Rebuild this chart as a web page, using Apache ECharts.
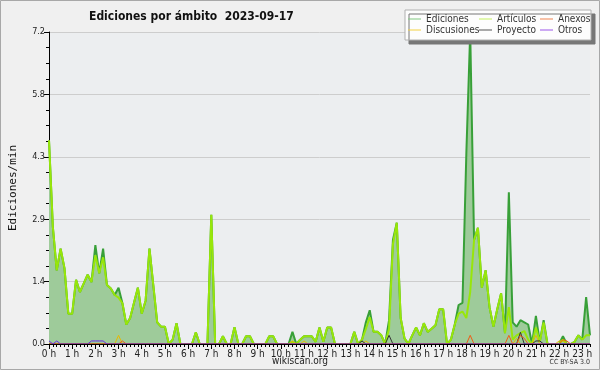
<!DOCTYPE html>
<html>
<head>
<meta charset="utf-8">
<script src="https://cdn.jsdelivr.net/npm/echarts@6/dist/echarts.min.js"></script>
<style>
  html, body { margin: 0; padding: 0; background: #f0f0f0; }
  #chart { width: 600px; height: 370px; }
</style>
</head>
<body>
<div id="chart"></div>
<script>
// one value every 10 minutes, 00:00 -> 23:20
const slotMinutes = 10;

const ediciones = [
  4.7, 2.7, 1.7, 2.2, 1.75, 0.7, 0.7, 1.48, 1.2, 1.4, 1.6, 1.43,
  2.28, 1.63, 2.2, 1.36, 1.28, 1.13, 1.3, 0.94, 0.45, 0.6, 0.95, 1.3,
  0.7, 1.0, 2.2, 1.35, 0.5, 0.4, 0.4, 0, 0.1, 0.48, 0, 0,
  0, 0, 0.27, 0, 0, 0, 2.98, 0, 0, 0.18, 0, 0,
  0.39, 0, 0, 0.18, 0.18, 0, 0, 0, 0, 0.18, 0.18, 0,
  0, 0, 0, 0.28, 0, 0.1, 0.18, 0.18, 0.18, 0.05, 0.38, 0.05,
  0.38, 0.38, 0, 0, 0, 0, 0, 0.28, 0, 0.1, 0.5, 0.78,
  0.28, 0.28, 0.2, 0, 0.55, 2.4, 2.8, 0.6, 0.13, 0, 0.2, 0.38,
  0.2, 0.48, 0.28, 0.35, 0.43, 0.8, 0.8, 0, 0.1, 0.45, 0.9, 0.95,
  4.4, 7.2, 2.4, 2.68, 1.3, 1.7, 0.85, 0.4, 0.8, 1.17, 0.25, 3.5,
  0.5, 0.4, 0.55, 0.5, 0.45, 0, 0.65, 0.05, 0.55, 0, 0, 0,
  0, 0.18, 0, 0, 0.05, 0.2, 0.1, 1.08, 0.2
];

const articulos = [
  4.7, 2.7, 1.7, 2.2, 1.75, 0.7, 0.7, 1.48, 1.2, 1.4, 1.6, 1.43,
  2.05, 1.63, 2.0, 1.36, 1.28, 1.13, 1.07, 0.94, 0.45, 0.6, 0.95, 1.3,
  0.7, 1.0, 2.2, 1.35, 0.5, 0.4, 0.4, 0, 0.1, 0.48, 0, 0,
  0, 0, 0.27, 0, 0, 0, 2.98, 0, 0, 0.18, 0, 0,
  0.39, 0, 0, 0.18, 0.18, 0, 0, 0, 0, 0.18, 0.18, 0,
  0, 0, 0, 0.05, 0, 0.1, 0.18, 0.18, 0.18, 0.05, 0.38, 0.05,
  0.38, 0.38, 0, 0, 0, 0, 0, 0.28, 0, 0.1, 0.35, 0.62,
  0.28, 0.28, 0.2, 0, 0.35, 2.3, 2.8, 0.6, 0.13, 0, 0.2, 0.38,
  0.2, 0.48, 0.28, 0.35, 0.43, 0.8, 0.8, 0, 0.1, 0.45, 0.7, 0.75,
  0.6, 1.2, 2.4, 2.68, 1.3, 1.7, 0.85, 0.4, 0.8, 1.17, 0.25, 0.85,
  0.1, 0.2, 0.25, 0.3, 0.1, 0, 0.38, 0.05, 0.5, 0, 0, 0,
  0, 0.1, 0, 0, 0.05, 0.2, 0.1, 0.2, 0.2
];

const discusiones = [
  0, 0, 0, 0, 0, 0, 0, 0, 0, 0, 0, 0,
  0, 0, 0, 0, 0, 0, 0.2, 0, 0, 0, 0, 0,
  0, 0, 0, 0, 0, 0, 0, 0, 0, 0, 0, 0,
  0, 0, 0, 0, 0, 0, 0, 0, 0, 0, 0, 0,
  0, 0, 0, 0, 0, 0, 0, 0, 0, 0, 0, 0,
  0, 0, 0, 0.07, 0, 0, 0.07, 0, 0, 0, 0, 0,
  0, 0, 0, 0, 0, 0, 0, 0, 0, 0, 0.07, 0,
  0, 0, 0, 0, 0, 0, 0, 0, 0, 0, 0, 0,
  0, 0, 0, 0, 0, 0, 0, 0, 0, 0, 0, 0,
  0, 0, 0, 0, 0, 0, 0, 0, 0, 0, 0, 0,
  0, 0.13, 0, 0, 0, 0, 0.2, 0, 0, 0, 0, 0,
  0.07, 0.07, 0, 0, 0, 0, 0, 0, 0
];

const proyecto = [
  0, 0, 0, 0, 0, 0, 0, 0, 0, 0, 0, 0,
  0, 0, 0, 0, 0, 0, 0, 0, 0, 0, 0, 0,
  0, 0, 0, 0, 0, 0, 0, 0, 0, 0, 0, 0,
  0, 0, 0, 0, 0, 0, 0, 0, 0, 0, 0, 0,
  0, 0, 0, 0, 0, 0, 0, 0, 0, 0, 0, 0,
  0, 0, 0, 0, 0, 0, 0, 0, 0, 0, 0, 0,
  0, 0, 0, 0, 0, 0, 0, 0, 0, 0.07, 0, 0,
  0, 0, 0, 0, 0.2, 0, 0, 0, 0, 0, 0, 0,
  0, 0, 0, 0, 0, 0, 0, 0, 0, 0, 0, 0,
  0, 0, 0, 0, 0, 0, 0, 0, 0, 0, 0, 0,
  0, 0, 0.27, 0, 0, 0, 0.07, 0.07, 0, 0, 0, 0,
  0, 0, 0, 0, 0, 0, 0, 0, 0
];

const anexos = [
  0, 0, 0, 0, 0, 0, 0, 0, 0, 0, 0, 0,
  0, 0, 0, 0, 0, 0, 0, 0.07, 0, 0, 0, 0,
  0, 0, 0, 0, 0, 0, 0, 0, 0, 0, 0, 0,
  0, 0, 0, 0, 0, 0, 0, 0, 0, 0, 0, 0,
  0, 0, 0, 0, 0, 0, 0, 0, 0, 0, 0, 0,
  0, 0, 0, 0, 0, 0, 0, 0, 0, 0, 0, 0,
  0, 0, 0, 0, 0, 0, 0, 0, 0, 0, 0, 0,
  0, 0, 0, 0, 0, 0, 0, 0, 0, 0, 0, 0,
  0, 0, 0, 0, 0, 0, 0, 0, 0, 0, 0, 0,
  0, 0.2, 0, 0, 0, 0, 0, 0, 0, 0, 0, 0.2,
  0, 0, 0.2, 0.13, 0, 0, 0, 0, 0, 0, 0, 0,
  0, 0.1, 0.07, 0, 0, 0, 0, 0, 0
];

const otros = [
  0.07, 0, 0.07, 0, 0, 0, 0, 0, 0, 0, 0, 0.07,
  0.07, 0.07, 0.07, 0, 0, 0, 0, 0, 0, 0, 0, 0,
  0, 0, 0, 0, 0, 0, 0, 0, 0, 0, 0, 0,
  0, 0, 0, 0, 0, 0, 0, 0, 0, 0, 0, 0,
  0, 0, 0, 0, 0, 0, 0, 0, 0, 0, 0, 0,
  0, 0, 0, 0, 0, 0, 0, 0, 0, 0, 0, 0,
  0, 0, 0, 0, 0, 0, 0, 0, 0, 0, 0, 0,
  0, 0, 0, 0, 0, 0, 0, 0, 0, 0, 0, 0,
  0, 0, 0, 0, 0, 0, 0, 0, 0, 0, 0, 0,
  0, 0, 0, 0, 0, 0, 0, 0, 0, 0, 0, 0,
  0, 0, 0, 0, 0, 0, 0, 0, 0, 0, 0, 0,
  0, 0, 0, 0, 0, 0, 0, 0, 0
];

const yMax = 7.2;

const font = "'DejaVu Sans Condensed', 'Liberation Sans', sans-serif";

const slotHours = ediciones.map((_, i) => i * slotMinutes / 60);
const slotLabels = slotHours.map(h => {
  const m = Math.round(h * 60);
  return String(Math.floor(m / 60)).padStart(2, '0') + ':' + String(m % 60).padStart(2, '0');
});
const pairs = arr => arr.map((v, i) => [slotHours[i], v]);

function lineSeries(name, values, color, width, z) {
  return {
    name: name,
    type: 'line',
    data: pairs(values),
    xAxisIndex: 0,
    symbol: 'none',
    showSymbol: false,
    lineStyle: { color: color, width: width },
    itemStyle: { color: color },
    z: z
  };
}

const chart = echarts.init(document.getElementById('chart'));

const ed = lineSeries('Ediciones', ediciones, '#38a038', 2, 2);
ed.areaStyle = { color: '#9ecb9a', opacity: 1 };

const legendBase = {
  orient: 'vertical',
  top: 14,
  padding: 0,
  itemGap: 1,
  itemWidth: 13,
  itemHeight: 1,
  icon: 'rect',
  z: 6,
  selectedMode: false,
  textStyle: { fontFamily: font, fontSize: 10, color: '#333', lineHeight: 10 }
};

const option = {
  backgroundColor: '#f0f0f0',
  animation: false,
  title: {
    text: 'Ediciones por ámbito  2023-09-17',
    left: 84,
    top: 6,
    textStyle: { fontFamily: font, fontSize: 12, fontWeight: 'bold', color: '#111' }
  },
  legend: [
    Object.assign({}, legendBase, { left: 408, data: [
      { name: 'Ediciones', itemStyle: { color: '#80c880' } },
      { name: 'Discusiones', itemStyle: { color: '#f2d040' } }
    ] }),
    Object.assign({}, legendBase, { left: 479, data: [
      { name: 'Artículos', itemStyle: { color: '#c4f060' } },
      { name: 'Proyecto', itemStyle: { color: '#555555' } }
    ] }),
    Object.assign({}, legendBase, { left: 540, data: [
      { name: 'Anexos', itemStyle: { color: '#f08550' } },
      { name: 'Otros', itemStyle: { color: '#9a55e8' } }
    ] })
  ],
  grid: {
    left: 46, right: 10, top: 32, bottom: 26,
    show: true, backgroundColor: '#eceef0', borderWidth: 0
  },
  xAxis: [
    {
      type: 'value',
      min: 0,
      max: slotHours[slotHours.length - 1],
      interval: 1,
      z: 10,
      axisLine: { lineStyle: { color: '#000', width: 1 } },
      axisTick: { length: 5, lineStyle: { color: '#000' } },
      axisLabel: {
        showMaxLabel: false,
        margin: 5,
        fontFamily: font,
        fontSize: 10,
        color: '#222',
        formatter: v => Number.isInteger(v) ? v + ' h' : ''
      },
      splitLine: { show: false }
    },
    {
      // 10-minute minor ticks
      type: 'category',
      data: slotLabels,
      boundaryGap: false,
      position: 'bottom',
      z: 10,
      axisLine: { show: false },
      axisTick: { show: true, interval: 0, length: 3, lineStyle: { color: '#000' } },
      axisLabel: { show: false },
      splitLine: { show: false }
    }
  ],
  yAxis: {
    type: 'value',
    min: 0,
    max: yMax,
    interval: yMax / 5,
    name: 'Ediciones/min',
    nameLocation: 'middle',
    nameGap: 30,
    nameTextStyle: { fontFamily: 'DejaVu Sans Mono', fontSize: 11, color: '#111' },
    axisLine: { show: true, lineStyle: { color: '#000' } },
    axisTick: { show: true, length: 5, lineStyle: { color: '#000' } },
    minorTick: { show: true, splitNumber: 4, length: 3, lineStyle: { color: '#000' } },
    axisLabel: { formatter: v => v.toFixed(1), fontFamily: font, fontSize: 9, color: '#222', margin: 4 },
    splitLine: { lineStyle: { color: '#cdcdcd' } }
  },
  graphic: [
    {
      type: 'rect', z: 5, silent: true,
      shape: { x: 405, y: 10, width: 186, height: 30 },
      style: { fill: '#fdfdfd', stroke: '#b0b0b0', lineWidth: 1,
        shadowColor: '#777', shadowOffsetX: 4, shadowOffsetY: 4, shadowBlur: 0 }
    },
    {
      type: 'text', left: 'center', top: 356, silent: true,
      style: { text: 'wikiscan.org', font: '10px ' + font, fill: '#222' }
    },
    {
      type: 'text', right: 10, top: 359, silent: true,
      style: { text: 'CC BY-SA 3.0', font: '7px ' + font, fill: '#333' }
    },
    {
      type: 'rect', z: 100, silent: true,
      shape: { x: 0.5, y: 0.5, width: 599, height: 369 },
      style: { fill: 'none', stroke: '#a8a8a8', lineWidth: 1 }
    }
  ],
  series: [
    ed,
    lineSeries('Artículos', articulos, '#98e60a', 2, 3),
    lineSeries('Discusiones', discusiones, '#e8b800', 1, 4),
    lineSeries('Proyecto', proyecto, '#333333', 1, 4),
    lineSeries('Anexos', anexos, '#f05a14', 1, 4),
    lineSeries('Otros', otros, '#6a28e8', 1, 4)
  ]
};

chart.setOption(option);
</script>
</body>
</html>
